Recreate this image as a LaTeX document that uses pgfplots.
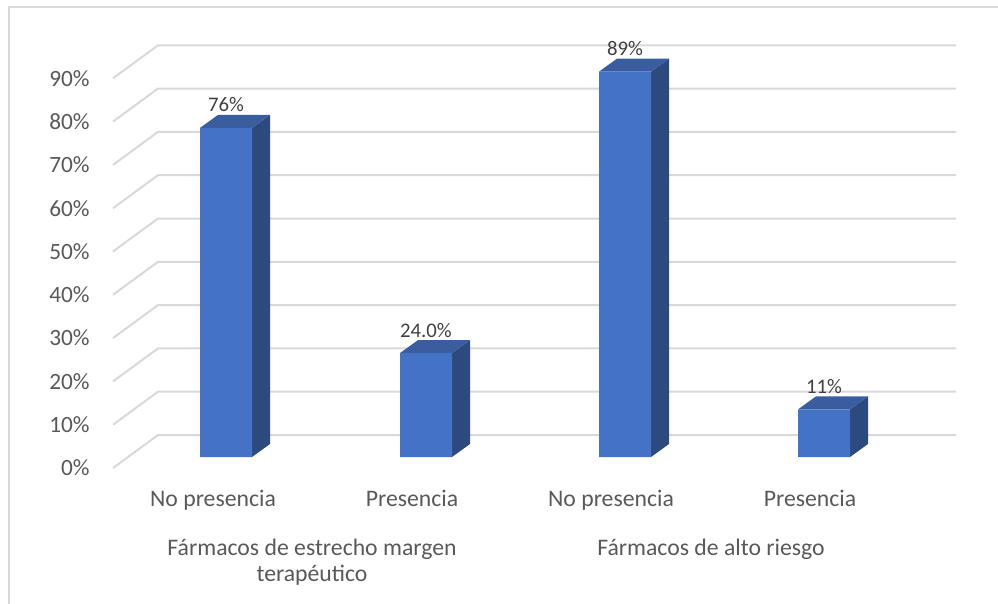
\documentclass[border=0pt]{standalone}
\usepackage{pgfplots}
\pgfplotsset{compat=1.18}
\usepackage{fontspec}
\setmainfont{Carlito}
\definecolor{barfront}{HTML}{4472C4}
\definecolor{bartop}{HTML}{3A5DA0}
\definecolor{barside}{HTML}{2C4A7E}
\definecolor{gridc}{HTML}{D9D9D9}
\definecolor{txt}{HTML}{595959}
\definecolor{lbl}{HTML}{404040}
\begin{document}
\begin{tikzpicture}
\begin{axis}[
  scale only axis,
  x=0.5bp, y=2.165bp,
  xmin=0, xmax=998, ymin=-33.718, ymax=105.543,
  axis line style={draw=none},
  tick style={draw=none},
  clip=false,
  ytick={-2.54,7.46,17.46,27.46,37.46,47.46,57.46,67.46,77.46,87.46},
  yticklabels={0\%,10\%,20\%,30\%,40\%,50\%,60\%,70\%,80\%,90\%},
  yticklabel style={anchor=east, inner sep=0pt, xshift=45bp, text=txt, font=\fontsize{11.7}{13}\selectfont},
  xtick={213,412,611,810},
  xticklabels={No presencia,Presencia,No presencia,Presencia},
  xticklabel style={anchor=base, inner sep=0pt, yshift=48.5bp, text=txt, font=\fontsize{11.9}{13}\selectfont},
  extra x ticks={312,711},
  extra x tick labels={{Fármacos de estrecho margen\\terapéutico},{Fármacos de alto riesgo\\\mbox{}}},
  extra x tick style={tick label style={anchor=base, align=center, inner sep=0pt, yshift=-37.5bp, text=txt, font=\fontsize{11.9}{14.5}\selectfont}},
]
% outer frame
\addplot[draw=gridc, line width=1bp] coordinates {(9,-40) (9,103.9) (1100,103.9)};
% grid (floor diagonals + back wall)
\addplot[draw=gridc, line width=1bp, unbounded coords=jump] coordinates {
 (113,-2.54) (158,5.08) (956,5.08) (nan,nan)
 (113,7.46) (158,15.08) (956,15.08) (nan,nan)
 (113,17.46) (158,25.08) (956,25.08) (nan,nan)
 (113,27.46) (158,35.08) (956,35.08) (nan,nan)
 (113,37.46) (158,45.08) (956,45.08) (nan,nan)
 (113,47.46) (158,55.08) (956,55.08) (nan,nan)
 (113,57.46) (158,65.08) (956,65.08) (nan,nan)
 (113,67.46) (158,75.08) (956,75.08) (nan,nan)
 (113,77.46) (158,85.08) (956,85.08) (nan,nan)
 (113,87.46) (158,95.08) (956,95.08)
};
% side faces
\addplot[fill=barside, draw=none] coordinates {(252,0) (270,3) (270,79) (252,76)} -- cycle;
\addplot[fill=barside, draw=none] coordinates {(452,0) (470,3) (470,27) (452,24)} -- cycle;
\addplot[fill=barside, draw=none] coordinates {(651,0) (669,3) (669,92) (651,89)} -- cycle;
\addplot[fill=barside, draw=none] coordinates {(850,0) (868,3) (868,14) (850,11)} -- cycle;
% top faces
\addplot[fill=bartop, draw=none] coordinates {(200,76) (218,79) (270,79) (252,76)} -- cycle;
\addplot[fill=bartop, draw=none] coordinates {(400,24) (418,27) (470,27) (452,24)} -- cycle;
\addplot[fill=bartop, draw=none] coordinates {(599,89) (617,92) (669,92) (651,89)} -- cycle;
\addplot[fill=bartop, draw=none] coordinates {(798,11) (816,14) (868,14) (850,11)} -- cycle;
% front faces
\addplot[ybar, bar width=52, bar shift=0pt, fill=barfront, draw=none,
  point meta=explicit symbolic,
  nodes near coords,
  every node near coord/.append style={anchor=center, yshift=11.5bp, text=lbl, font=\fontsize{10.4}{12}\selectfont}]
  coordinates {(226,76)[76\%] (426,24)[24.0\%] (625,89)[89\%] (824,11)[11\%]};
\end{axis}
\pgfresetboundingbox
\path[use as bounding box] (current axis.south west) rectangle (current axis.north east);
\end{tikzpicture}
\end{document}
